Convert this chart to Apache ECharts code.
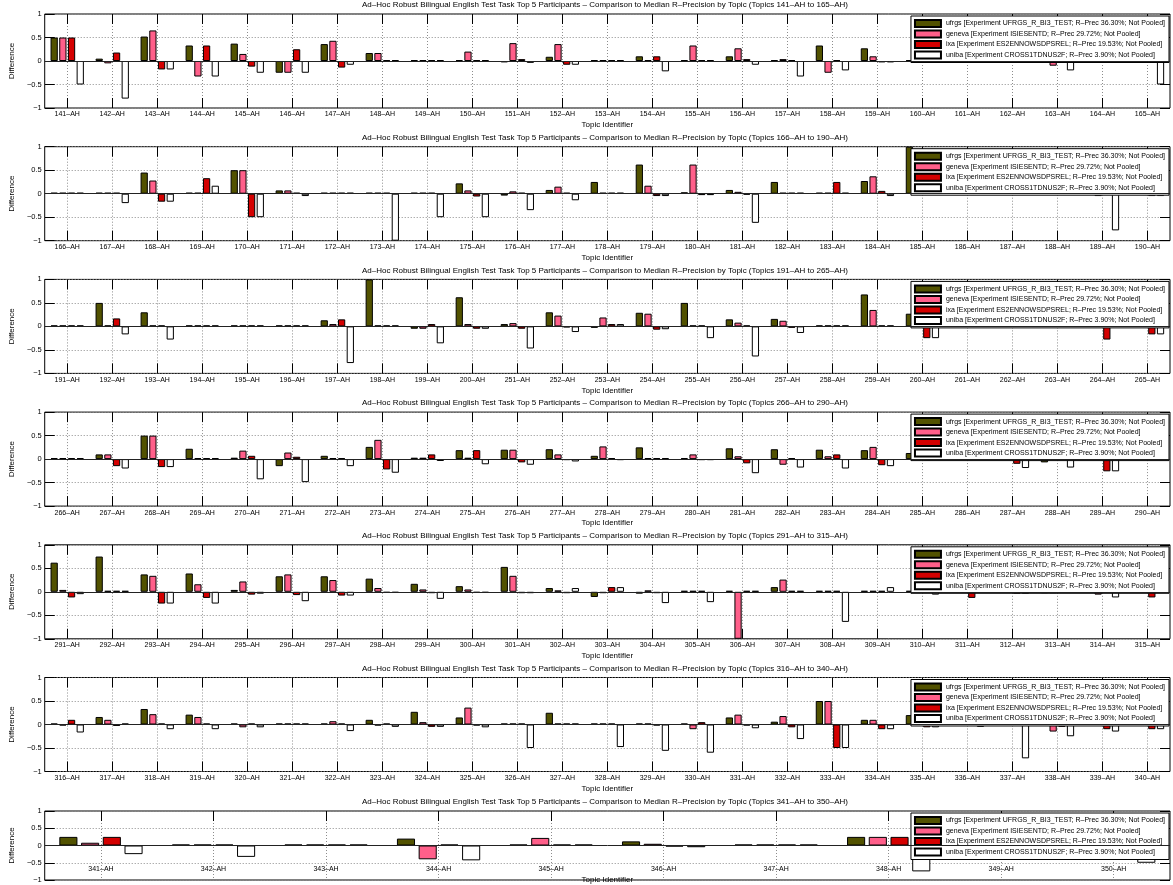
<!DOCTYPE html>
<html><head><meta charset="utf-8">
<script src="https://cdn.jsdelivr.net/npm/echarts@6/dist/echarts.min.js"></script>
<style>html,body{margin:0;padding:0;background:#fff}#c{width:1173px;height:885px}</style>
</head><body><div id="c"></div>
<script>
// ---------- DATA ----------
const seriesNames = [
  'ufrgs [Experiment UFRGS_R_BI3_TEST; R–Prec 36.30%; Not Pooled]',
  'geneva [Experiment ISIESENTD; R–Prec 29.72%; Not Pooled]',
  'ixa [Experiment ES2ENNOWSDPSREL; R–Prec 19.53%; Not Pooled]',
  'uniba [Experiment CROSS1TDNUS2F; R–Prec 3.90%; Not Pooled]'
];
const yTicks = [-1, -0.5, 0, 0.5, 1];

const topics1 = ['141–AH','142–AH','143–AH','144–AH','145–AH','146–AH','147–AH','148–AH','149–AH','150–AH','151–AH','152–AH','153–AH','154–AH','155–AH','156–AH','157–AH','158–AH','159–AH','160–AH','161–AH','162–AH','163–AH','164–AH','165–AH'];
const ufrgs1  = [0.5, 0.05, 0.52, 0.33, 0.37, -0.25, 0.36, 0.17, 0, 0, -0.03, 0.09, 0, 0.1, 0, 0.1, 0.02, 0.33, 0.27, 0, 0, 0, 0, 0, 0];
const geneva1 = [0.5, -0.05, 0.65, -0.33, 0.15, -0.25, 0.43, 0.17, 0, 0.2, 0.38, 0.36, 0, 0, 0.33, 0.27, 0.04, -0.25, 0.1, 0, 0, 0, -0.1, 0, 0];
const ixa1    = [0.5, 0.18, -0.18, 0.33, -0.12, 0.25, -0.14, 0, 0, 0, 0.04, -0.08, 0, 0.1, 0, 0.04, 0, 0, -0.03, 0, 0, 0, 0, 0, 0];
const uniba1  = [-0.5, -0.8, -0.18, -0.33, -0.25, -0.25, -0.08, 0, 0, 0, -0.04, -0.08, 0, -0.22, 0, -0.08, -0.33, -0.2, -0.03, 0, 0, 0, -0.2, 0, -0.5];

const topics2 = ['166–AH','167–AH','168–AH','169–AH','170–AH','171–AH','172–AH','173–AH','174–AH','175–AH','176–AH','177–AH','178–AH','179–AH','180–AH','181–AH','182–AH','183–AH','184–AH','185–AH','186–AH','187–AH','188–AH','189–AH','190–AH'];
const ufrgs2  = [0, 0, 0.45, 0, 0.5, 0.07, 0, 0, 0, 0.22, -0.04, 0.08, 0.25, 0.62, 0.03, 0.08, 0.25, 0, 0.27, 1.0, 0, 0, 0, 0, 0];
const geneva2 = [0, 0, 0.28, 0, 0.5, 0.07, 0, 0, 0, 0.07, 0.05, 0.15, 0, 0.17, 0.62, 0.04, 0, 0, 0.37, 0, 0, 0, 0, -0.05, 0];
const ixa2    = [0, 0, -0.17, 0.33, -0.5, 0.02, 0, 0, 0, -0.06, 0, 0, 0, -0.05, -0.03, -0.02, 0, 0.25, 0.06, 0, 0, 0, 0, 0, -0.05];
const uniba2  = [0, -0.2, -0.17, 0.17, -0.5, -0.05, 0, -1.0, -0.5, -0.5, -0.35, -0.14, 0, -0.05, -0.03, -0.62, 0, 0, -0.05, 0, 0, 0, 0, -0.78, -0.05];

const topics3 = ['191–AH','192–AH','193–AH','194–AH','195–AH','196–AH','197–AH','198–AH','199–AH','200–AH','251–AH','252–AH','253–AH','254–AH','255–AH','256–AH','257–AH','258–AH','259–AH','260–AH','261–AH','262–AH','263–AH','264–AH','265–AH'];
const ufrgs3  = [0, 0.5, 0.3, 0, 0, 0, 0.13, 1.0, -0.05, 0.62, 0.05, 0.3, -0.03, 0.29, 0.5, 0.15, 0.16, 0, 0.68, 0.27, 0, 0, 0, 0, 0];
const geneva3 = [0, 0, 0, 0, 0, 0, 0.05, 0, -0.05, 0.05, 0.07, 0.23, 0.19, 0.27, 0, 0.08, 0.12, 0, 0.35, 0, 0, 0, 0, 0, 0];
const ixa3    = [0, 0.17, 0, 0, 0, 0, 0.15, 0, 0.05, -0.05, -0.05, -0.02, 0.05, -0.07, 0, 0, -0.03, 0.01, 0, -0.25, -0.03, 0, 0, -0.28, -0.17];
const uniba3  = [0, -0.17, -0.28, 0, 0, 0, -0.78, 0, -0.36, -0.05, -0.47, -0.12, 0.05, -0.06, -0.25, -0.64, -0.14, 0, 0, -0.25, 0, -0.03, -0.01, 0, -0.17];

const topics4 = ['266–AH','267–AH','268–AH','269–AH','270–AH','271–AH','272–AH','273–AH','274–AH','275–AH','276–AH','277–AH','278–AH','279–AH','280–AH','281–AH','282–AH','283–AH','284–AH','285–AH','286–AH','287–AH','288–AH','289–AH','290–AH'];
const ufrgs4  = [0, 0.1, 0.5, 0.22, 0.03, -0.15, 0.07, 0.26, 0.03, 0.19, 0.2, 0.21, 0.07, 0.25, 0.02, 0.23, 0.21, 0.2, 0.19, 0.13, 0, 0, -0.07, 0, 0];
const geneva4 = [0, 0.1, 0.5, 0, 0.18, 0.14, 0, 0.41, 0.03, 0.03, 0.2, 0.1, 0.27, 0, 0.1, 0.06, -0.12, 0.06, 0.26, 0, 0, 0, 0, 0, 0];
const ixa4    = [0, -0.15, -0.17, 0, 0.07, 0.05, 0, -0.22, 0.1, 0.19, -0.07, -0.02, 0.02, 0, -0.01, -0.09, 0.01, 0.1, -0.13, -0.03, 0, -0.1, 0, -0.26, 0];
const uniba4  = [0, -0.2, -0.17, 0, -0.43, -0.49, -0.15, -0.29, -0.04, -0.11, -0.12, -0.05, -0.01, 0, -0.01, -0.3, -0.18, -0.2, -0.15, 0, 0, -0.19, -0.18, -0.26, 0];

const topics5 = ['291–AH','292–AH','293–AH','294–AH','295–AH','296–AH','297–AH','298–AH','299–AH','300–AH','301–AH','302–AH','303–AH','304–AH','305–AH','306–AH','307–AH','308–AH','309–AH','310–AH','311–AH','312–AH','313–AH','314–AH','315–AH'];
const ufrgs5  = [0.62, 0.75, 0.37, 0.39, 0.04, 0.33, 0.33, 0.28, 0.17, 0.12, 0.53, 0.08, -0.11, -0.04, 0, 0, 0.1, 0, 0, 0, 0, 0, -0.03, 0, 0];
const geneva5 = [0.04, 0, 0.34, 0.16, 0.22, 0.37, 0.25, 0.08, 0.05, 0.05, 0.34, 0.03, -0.03, 0.03, 0, -1.0, 0.26, 0, 0, 0, 0, 0, -0.03, -0.06, 0];
const ixa5    = [-0.12, 0, -0.25, -0.13, -0.06, -0.07, -0.08, -0.01, -0.03, -0.01, -0.03, -0.03, 0.1, -0.03, 0, 0, 0, 0, 0, 0, -0.13, -0.04, 0, 0, -0.12];
const uniba5  = [-0.05, 0, -0.25, -0.25, -0.04, -0.2, -0.08, -0.01, -0.15, -0.01, -0.03, 0.08, 0.1, -0.24, -0.22, 0, 0, -0.64, 0.1, -0.06, 0, -0.04, 0, -0.12, 0];

const topics6 = ['316–AH','317–AH','318–AH','319–AH','320–AH','321–AH','322–AH','323–AH','324–AH','325–AH','326–AH','327–AH','328–AH','329–AH','330–AH','331–AH','332–AH','333–AH','334–AH','335–AH','336–AH','337–AH','338–AH','339–AH','340–AH'];
const ufrgs6  = [0.01, 0.16, 0.33, 0.21, 0, 0, 0, 0.1, 0.27, 0.15, 0, 0.25, 0, 0.02, 0, 0.15, 0.06, 0.5, 0.1, 0.2, 0, 0, 0, 0, 0];
const geneva6 = [-0.01, 0.1, 0.22, 0.16, -0.06, 0, 0.07, -0.01, 0.05, 0.36, 0, 0, 0, 0.01, -0.1, 0.21, 0.18, 0.5, 0.1, 0, 0, 0, -0.15, 0, 0];
const ixa6    = [0.1, -0.03, 0, 0, 0, 0, 0, 0.02, -0.05, -0.02, 0, 0, 0, -0.02, 0.05, -0.02, -0.06, -0.5, -0.1, -0.06, 0, -0.03, -0.05, -0.1, -0.1];
const uniba6  = [-0.17, 0, -0.1, -0.1, -0.06, 0, -0.14, -0.05, -0.05, -0.06, -0.5, 0, -0.48, -0.56, -0.6, -0.08, -0.31, -0.5, -0.1, -0.06, -0.05, -0.72, -0.25, -0.15, -0.1];

const topics7 = ['341–AH','342–AH','343–AH','344–AH','345–AH','346–AH','347–AH','348–AH','349–AH','350–AH'];
const ufrgs7  = [0.25, 0, 0, 0.2, 0, 0.12, 0, 0.25, 0, 0];
const geneva7 = [0.08, 0, 0, -0.4, 0.22, 0.05, 0, 0.25, 0, 0];
const ixa7    = [0.25, 0, 0, 0, 0, -0.03, 0, 0.25, 0, 0];
const uniba7  = [-0.25, -0.33, 0, -0.43, 0, -0.05, 0, -0.75, -0.37, -0.5];

// ---------- CHART ----------
const panels = [
  [topics1, [ufrgs1, geneva1, ixa1, uniba1]],
  [topics2, [ufrgs2, geneva2, ixa2, uniba2]],
  [topics3, [ufrgs3, geneva3, ixa3, uniba3]],
  [topics4, [ufrgs4, geneva4, ixa4, uniba4]],
  [topics5, [ufrgs5, geneva5, ixa5, uniba5]],
  [topics6, [ufrgs6, geneva6, ixa6, uniba6]],
  [topics7, [ufrgs7, geneva7, ixa7, uniba7]]
];
const FONT = '"Liberation Sans", Arial, Helvetica, sans-serif';
const colors = ['#525200', '#ff5f8a', '#d40000', '#ffffff'];
const gridLine = {color: '#8c8c8c', width: 1, type: [1, 2]};
const tickStyle = {color: '#000', width: 1};
const grids = [], xAxes = [], yAxes = [], series = [], titles = [], legends = [];

panels.forEach(([topics, vals], k) => {
  const last = k === panels.length - 1;
  const top = last ? 811 : 14 + 132.7 * k;
  const height = last ? 75 : 94;
  grids.push({left: 37, right: 3, top: top, height: height, show: true,
    borderColor: '#000', borderWidth: 1, backgroundColor: 'transparent', containLabel: false});
  titles.push({
    text: 'Ad–Hoc Robust Bilingual English Test Task Top 5 Participants – Comparison to Median R–Precision by Topic (Topics ' + topics[0] + ' to ' + topics[topics.length - 1] + ')',
    left: 605, top: top - 13, textAlign: 'center', padding: 0,
    textStyle: {fontSize: 8, fontWeight: 'normal', color: '#000', fontFamily: FONT}
  });
  const xb = xAxes.length;
  xAxes.push({
    type: 'category', gridIndex: k, data: topics, position: 'bottom', offset: last ? -17 : 0,
    boundaryGap: true,
    axisLine: {show: false, onZero: false},
    axisTick: {show: !last, inside: true, length: 10, alignWithLabel: true, interval: 0, lineStyle: tickStyle},
    axisLabel: {interval: 0, margin: 3, fontSize: 7, color: '#000', fontFamily: FONT},
    splitLine: {show: true, alignWithLabel: true, interval: 0, lineStyle: gridLine},
    name: 'Topic Identifier', nameLocation: 'middle', nameGap: 13,
    nameTextStyle: {fontSize: 8, color: '#000', fontFamily: FONT}
  });
  xAxes.push({
    type: 'category', gridIndex: k, data: topics, position: 'top', boundaryGap: true,
    axisLine: {show: false, onZero: false},
    axisTick: {show: true, inside: true, length: 10, alignWithLabel: true, interval: 0, lineStyle: tickStyle},
    axisLabel: {show: false}, splitLine: {show: false}
  });
  const yb = yAxes.length;
  yAxes.push({
    type: 'value', gridIndex: k, min: yTicks[0], max: yTicks[yTicks.length - 1], interval: 0.5, position: 'left',
    axisLine: {show: false, onZero: false},
    axisTick: {show: true, inside: true, length: 10, lineStyle: tickStyle},
    axisLabel: {margin: 3, fontSize: 7.5, color: '#000', fontFamily: FONT,
      formatter: v => (v < 0 ? '−' + Math.abs(v) : String(v))},
    splitLine: {show: true, lineStyle: gridLine},
    name: 'Difference', nameLocation: 'middle', nameGap: 20, nameRotate: 90,
    nameTextStyle: {fontSize: 8, color: '#000', fontFamily: FONT}
  });
  yAxes.push({
    type: 'value', gridIndex: k, min: yTicks[0], max: yTicks[yTicks.length - 1], interval: 0.5, position: 'right',
    axisLine: {show: false, onZero: false},
    axisTick: {show: true, inside: true, length: 10, lineStyle: tickStyle},
    axisLabel: {show: false}, splitLine: {show: false}
  });
  vals.forEach((d, i) => {
    const s = {
      type: 'bar', name: seriesNames[i], xAxisIndex: xb, yAxisIndex: yb, data: d,
      barGap: '20%', barCategoryGap: '26%', barMinHeight: 1,
      itemStyle: {color: colors[i], borderColor: '#000', borderWidth: 1},
      emphasis: {disabled: true}, animation: false
    };
    if (i === 0) {
      s.markLine = {silent: true, symbol: 'none', label: {show: false}, animation: false,
        lineStyle: {color: '#222', width: 1, type: 'solid'}, data: [{yAxis: 0}]};
    }
    series.push(s);
  });
  legends.push({
    show: true, orient: 'vertical', right: 4, top: top + 2, data: seriesNames,
    icon: 'rect', itemWidth: 26, itemHeight: 7, itemGap: 1.5, padding: [3, 4, 3, 3],
    backgroundColor: '#fff', borderColor: '#000', borderWidth: 1, borderRadius: 0,
    selectedMode: false,
    textStyle: {fontSize: 7, lineHeight: 8, color: '#000', fontFamily: FONT}
  });
});

const chart = echarts.init(document.getElementById('c'), null, {renderer: 'canvas'});
chart.setOption({
  animation: false,
  backgroundColor: '#fff',
  title: titles, grid: grids, xAxis: xAxes, yAxis: yAxes, series: series, legend: legends
});
</script>
</body></html>
